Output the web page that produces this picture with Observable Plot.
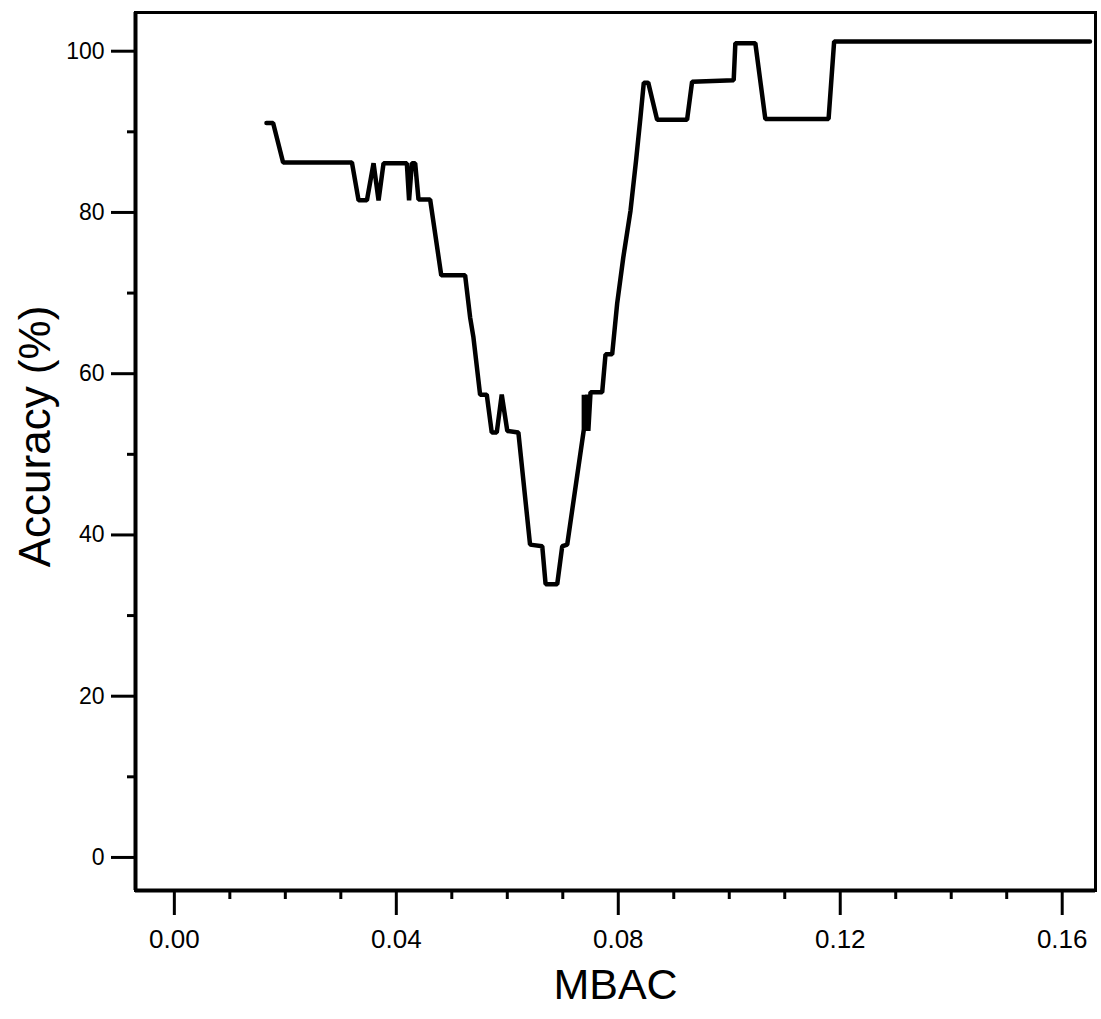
<!DOCTYPE html>
<html><head><meta charset="utf-8">
<script src="https://cdn.jsdelivr.net/npm/d3@7"></script>
<script src="https://cdn.jsdelivr.net/npm/@observablehq/plot@0.6"></script>
<style>body{margin:0;background:#fff;} svg{display:block;}</style>
</head><body><div id="chart"></div>
<script>
const mbac = [0.0166, 0.0178, 0.0196, 0.0320, 0.0332, 0.0347, 0.0359, 0.0368, 0.0377, 0.0419,
  0.0423, 0.0428, 0.0434, 0.0440, 0.0461, 0.0481, 0.0524, 0.0533, 0.0539, 0.0551,
  0.0563, 0.0572, 0.0581, 0.0590, 0.0600, 0.0620, 0.0641, 0.0663, 0.0669, 0.0690,
  0.0699, 0.0708, 0.0738, 0.0738, 0.0741, 0.0744, 0.0746, 0.0750, 0.0771, 0.0777,
  0.0789, 0.0798, 0.0809, 0.0822, 0.0832, 0.0840, 0.0846, 0.0854, 0.0870, 0.0924,
  0.0933, 0.1008, 0.1011, 0.1047, 0.1065, 0.1179, 0.1189, 0.1650];
const accuracy = [91.1, 91.1, 86.2, 86.2, 81.5, 81.5, 86.1, 81.5, 86.1, 86.1,
  81.5, 86.1, 86.1, 81.6, 81.6, 72.2, 72.2, 67.0, 64.5, 57.4,
  57.4, 52.7, 52.7, 57.4, 52.9, 52.7, 38.8, 38.6, 33.9, 33.9,
  38.6, 38.8, 53.1, 57.4, 52.9, 57.4, 52.9, 57.7, 57.7, 62.4,
  62.4, 68.7, 74.4, 80.2, 86.4, 91.8, 96.1, 96.1, 91.5, 91.5,
  96.2, 96.4, 101.0, 101.0, 91.6, 91.6, 101.2, 101.2];
const xMajorTicks = [0, 0.04, 0.08, 0.12, 0.16];
const xMinorTicks = [0.01, 0.02, 0.03, 0.05, 0.06, 0.07, 0.09, 0.10, 0.11, 0.13, 0.14, 0.15];
const yMajorTicks = [0, 20, 40, 60, 80, 100];
const yMinorTicks = [10, 30, 50, 70, 90];
const xLabel = ["MBAC"];
const yLabel = ["Accuracy (%)"];

const data = mbac.map((x, i) => ({x, y: accuracy[i]}));

const chart = Plot.plot({
  width: 1101,
  height: 1019,
  marginLeft: 135,
  marginRight: 6,
  marginTop: 12,
  marginBottom: 129,
  style: {fontFamily: "'Liberation Sans', Arial, sans-serif", color: "#000", background: "#fff"},
  x: {domain: [-0.007, 0.166]},
  y: {domain: [-4.1, 104.8]},
  marks: [
    Plot.axisX(xMinorTicks, {tickSize: 9, strokeWidth: 3, tickFormat: () => "", label: null}),
    Plot.axisX(xMajorTicks, {tickSize: 25, tickPadding: 14, strokeWidth: 3, fontSize: 26, tickFormat: d3.format(".2f"), label: null}),
    Plot.axisY(yMinorTicks, {tickSize: 8, strokeWidth: 3, tickFormat: () => "", label: null}),
    Plot.axisY(yMajorTicks, {tickSize: 24, tickPadding: 7, strokeWidth: 3, fontSize: 23, tickFormat: d3.format("d"), label: null}),
    Plot.frame({strokeWidth: 3}),
    Plot.ruleX([-0.007], {strokeWidth: 4}),
    Plot.ruleY([-4.1], {strokeWidth: 4}),
    Plot.line(data, {x: "x", y: "y", strokeWidth: 4.5, strokeLinejoin: "miter"}),
    Plot.text(xLabel, {frameAnchor: "bottom", dy: 95, text: d => d, fontSize: 43, lineAnchor: "middle"}),
    Plot.text(yLabel, {frameAnchor: "left", dx: -100, dy: -15, rotate: -90, text: d => d, fontSize: 44, textAnchor: "middle", lineAnchor: "middle"})
  ]
});
d3.select(chart).selectAll('g[aria-label="x-axis tick"], g[aria-label="y-axis tick"]').attr("stroke-width", 3)
  .selectAll("path").attr("stroke-width", 3);
document.getElementById("chart").appendChild(chart);
</script>
</body></html>
